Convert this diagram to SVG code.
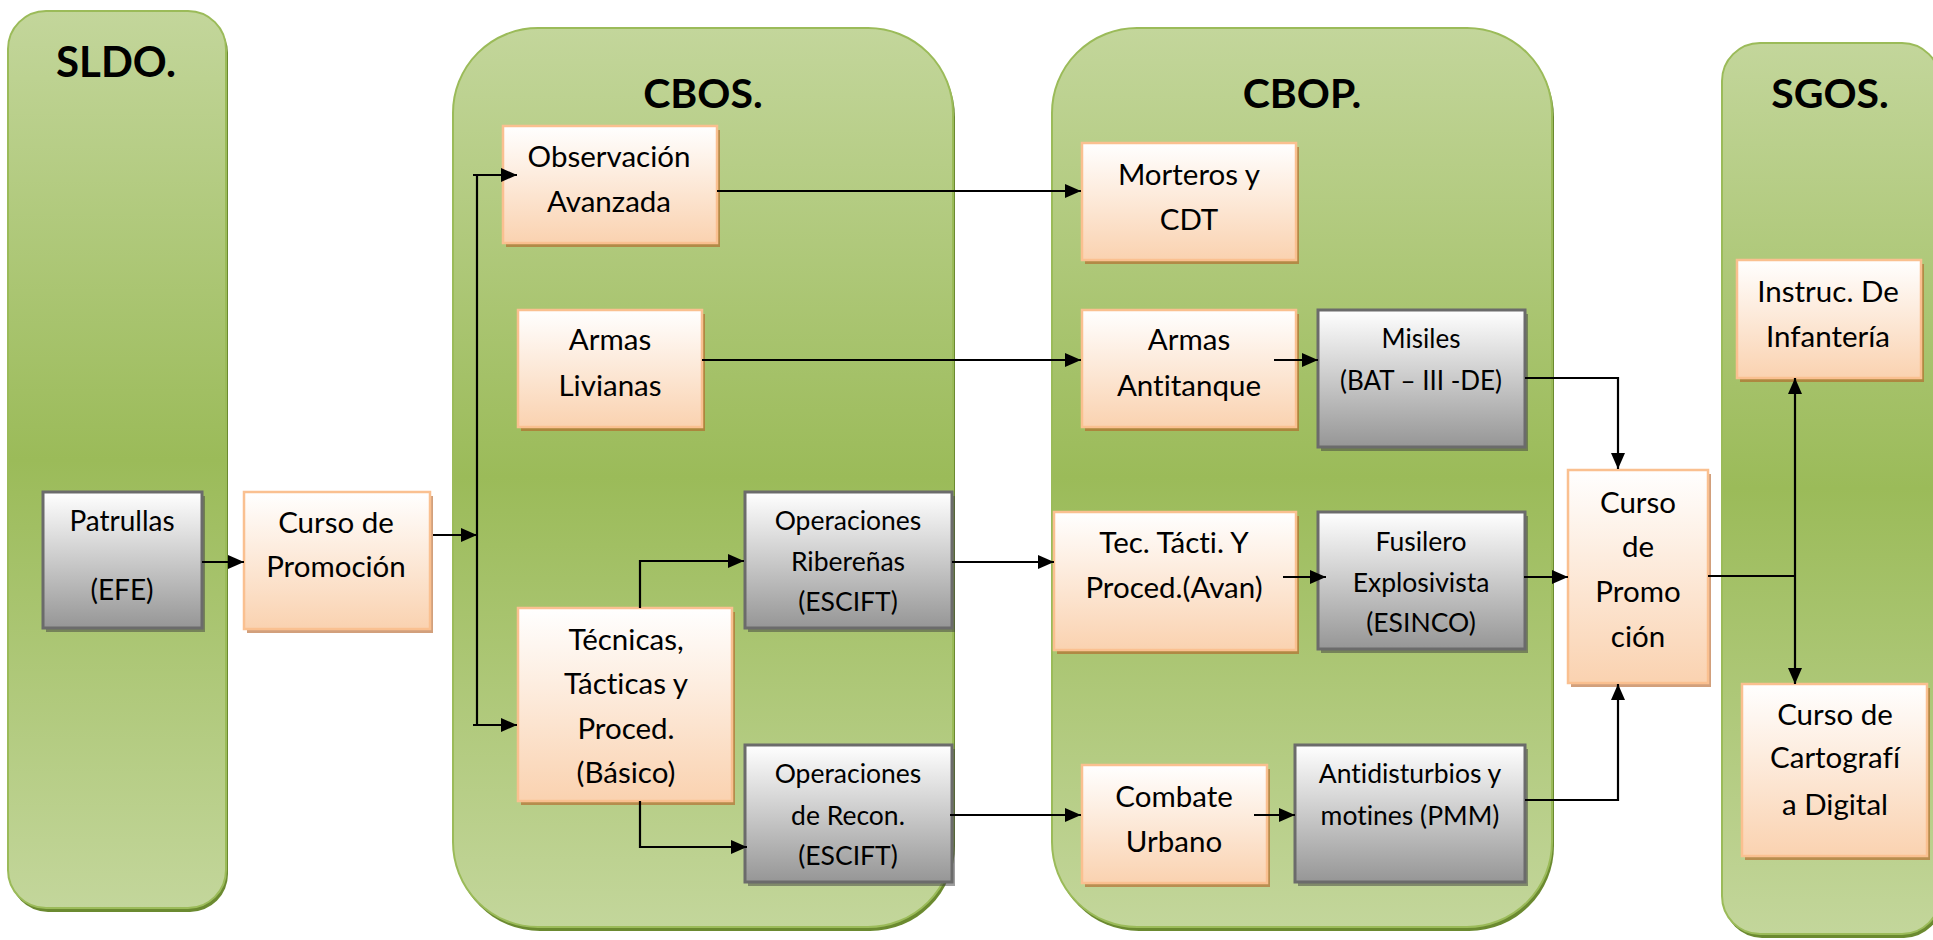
<svg xmlns="http://www.w3.org/2000/svg" width="1933" height="940" viewBox="0 0 1933 940">
<defs>
<linearGradient id="gPanel" x1="0" y1="0" x2="0" y2="1">
<stop offset="0" stop-color="#c3d69b"/><stop offset="0.5" stop-color="#9bbb59"/><stop offset="1" stop-color="#c3d69b"/>
</linearGradient>
<linearGradient id="gOr" x1="0" y1="0" x2="0" y2="1">
<stop offset="0" stop-color="#ffffff"/><stop offset="1" stop-color="#fad2b0"/>
</linearGradient>
<linearGradient id="gGr" x1="0" y1="0" x2="0" y2="1">
<stop offset="0" stop-color="#ffffff"/><stop offset="1" stop-color="#969696"/>
</linearGradient>
<marker id="ah" viewBox="0 0 16 14" refX="16" refY="7" markerWidth="16" markerHeight="14" markerUnits="userSpaceOnUse" orient="auto">
<path d="M0,0 L16,7 L0,14 z" fill="#000"/>
</marker>
<style>
.pshadow{fill:#6b8a30}
.panel{fill:url(#gPanel);stroke:#9bbb59;stroke-width:2}
.title{font-family:Lato,"Liberation Sans",sans-serif;font-weight:bold;font-size:41px;fill:#000;text-anchor:middle}
.oshadow{fill:#b46125;opacity:0.6}
.gshadow{fill:#404040;opacity:0.5}
.or{fill:url(#gOr);stroke:#fac090;stroke-width:2.5}
.gr{fill:url(#gGr);stroke:#6b6b6b;stroke-width:3}
.t{font-family:Lato,"Liberation Sans",sans-serif;font-size:29.5px;fill:#000;text-anchor:middle;font-variant-ligatures:none}
.s{font-size:26.5px}
.m{font-size:26px}
.p{font-size:28px}
.c{fill:none;stroke:#000;stroke-width:2.2}
</style>
</defs>

<g id="panel-sldo">
<rect class="pshadow" x="10" y="15" width="218" height="897" rx="38"/>
<rect class="panel" x="8" y="11" width="218" height="897" rx="38"/>
<text class="title" x="116" y="77" style="font-size:42px">SLDO.</text>
</g>
<g id="panel-cbos">
<rect class="pshadow" x="455" y="32" width="500" height="899" rx="85"/>
<rect class="panel" x="453" y="28" width="500" height="899" rx="85"/>
<text class="title" x="703" y="108">CBOS.</text>
</g>
<g id="panel-cbop">
<rect class="pshadow" x="1054" y="32" width="500" height="899" rx="85"/>
<rect class="panel" x="1052" y="28" width="500" height="899" rx="85"/>
<text class="title" x="1302" y="108">CBOP.</text>
</g>
<g id="panel-sgos">
<rect class="pshadow" x="1724" y="47" width="218" height="891" rx="38"/>
<rect class="panel" x="1722" y="43" width="218" height="891" rx="38"/>
<text class="title" x="1830" y="108">SGOS.</text>
</g>

<g id="n-patrullas">
<rect class="gshadow" x="46" y="496" width="159" height="136"/>
<rect class="gr" x="43" y="492" width="159" height="136"/>
<text class="t p" x="122" y="531">Patrullas</text>
<text class="t p" x="122" y="600">(EFE)</text>
</g>
<g id="n-curso1">
<rect class="oshadow" x="247" y="496" width="186" height="137"/>
<rect class="or" x="244" y="492" width="186" height="137"/>
<text class="t" x="336" y="533">Curso de</text>
<text class="t" x="336" y="577">Promoción</text>
</g>
<g id="n-observacion">
<rect class="oshadow" x="506" y="130" width="214" height="117"/>
<rect class="or" x="503" y="126" width="214" height="117"/>
<text class="t" x="609" y="167">Observación</text>
<text class="t" x="609" y="212">Avanzada</text>
</g>
<g id="n-livianas">
<rect class="oshadow" x="521" y="314" width="184" height="117"/>
<rect class="or" x="518" y="310" width="184" height="117"/>
<text class="t" x="610" y="350">Armas</text>
<text class="t" x="610" y="396">Livianas</text>
</g>
<g id="n-tecnicas">
<rect class="oshadow" x="521" y="612" width="214" height="193"/>
<rect class="or" x="518" y="608" width="214" height="193"/>
<text class="t" x="626" y="650">Técnicas,</text>
<text class="t" x="626" y="694">Tácticas y</text>
<text class="t" x="626" y="739">Proced.</text>
<text class="t" x="626" y="783">(Básico)</text>
</g>
<g id="n-riberenas">
<rect class="gshadow" x="748" y="496" width="207" height="136"/>
<rect class="gr" x="745" y="492" width="207" height="136"/>
<text class="t s" x="848" y="530">Operaciones</text>
<text class="t s" x="848" y="571">Ribereñas</text>
<text class="t s" x="848" y="611">(ESCIFT)</text>
</g>
<g id="n-recon">
<rect class="gshadow" x="748" y="749" width="207" height="137"/>
<rect class="gr" x="745" y="745" width="207" height="137"/>
<text class="t s" x="848" y="783">Operaciones</text>
<text class="t s" x="848" y="825">de Recon.</text>
<text class="t s" x="848" y="865">(ESCIFT)</text>
</g>
<g id="n-morteros">
<rect class="oshadow" x="1085" y="147" width="214" height="117"/>
<rect class="or" x="1082" y="143" width="214" height="117"/>
<text class="t" x="1189" y="185">Morteros y</text>
<text class="t" x="1189" y="230">CDT</text>
</g>
<g id="n-antitanque">
<rect class="oshadow" x="1085" y="314" width="214" height="117"/>
<rect class="or" x="1082" y="310" width="214" height="117"/>
<text class="t" x="1189" y="350">Armas</text>
<text class="t" x="1189" y="396">Antitanque</text>
</g>
<g id="n-misiles">
<rect class="gshadow" x="1321" y="314" width="207" height="137"/>
<rect class="gr" x="1318" y="310" width="207" height="137"/>
<text class="t m" x="1421" y="348">Misiles</text>
<text class="t m" x="1421" y="390">(BAT – III -DE)</text>
</g>
<g id="n-tecavan">
<rect class="oshadow" x="1057" y="516" width="242" height="138"/>
<rect class="or" x="1054" y="512" width="242" height="138"/>
<text class="t" x="1174" y="553">Tec. Tácti. Y</text>
<text class="t" x="1174" y="598">Proced.(Avan)</text>
</g>
<g id="n-fusilero">
<rect class="gshadow" x="1321" y="516" width="207" height="137"/>
<rect class="gr" x="1318" y="512" width="207" height="137"/>
<text class="t s" x="1421" y="551">Fusilero</text>
<text class="t s" x="1421" y="592">Explosivista</text>
<text class="t s" x="1421" y="632">(ESINCO)</text>
</g>
<g id="n-combate">
<rect class="oshadow" x="1085" y="769" width="185" height="118"/>
<rect class="or" x="1082" y="765" width="185" height="118"/>
<text class="t" x="1174" y="807">Combate</text>
<text class="t" x="1174" y="852">Urbano</text>
</g>
<g id="n-antidisturbios">
<rect class="gshadow" x="1298" y="749" width="230" height="137"/>
<rect class="gr" x="1295" y="745" width="230" height="137"/>
<text class="t s" x="1410" y="783">Antidisturbios y</text>
<text class="t s" x="1410" y="825">motines (PMM)</text>
</g>
<g id="n-curso2">
<rect class="oshadow" x="1571" y="474" width="140" height="213"/>
<rect class="or" x="1568" y="470" width="140" height="213"/>
<text class="t" x="1638" y="513">Curso</text>
<text class="t" x="1638" y="557">de</text>
<text class="t" x="1638" y="602">Promo</text>
<text class="t" x="1638" y="647">ción</text>
</g>
<g id="n-instruc">
<rect class="oshadow" x="1740" y="264" width="184" height="118"/>
<rect class="or" x="1737" y="260" width="184" height="118"/>
<text class="t" x="1828" y="302">Instruc. De</text>
<text class="t" x="1828" y="347">Infantería</text>
</g>
<g id="n-cartografia">
<rect class="oshadow" x="1745" y="688" width="185" height="172"/>
<rect class="or" x="1742" y="684" width="185" height="172"/>
<text class="t" x="1835" y="725">Curso de</text>
<text class="t" x="1835" y="768">Cartografí</text>
<text class="t" x="1835" y="815">a Digital</text>
</g>

<g id="connectors">
<path class="c" d="M202,562 H244" marker-end="url(#ah)"/>
<path class="c" d="M433,535 H477" marker-end="url(#ah)"/>
<path class="c" d="M477,175 V725"/>
<path class="c" d="M473,175 H517" marker-end="url(#ah)"/>
<path class="c" d="M473,725 H517" marker-end="url(#ah)"/>
<path class="c" d="M717,191 H1081" marker-end="url(#ah)"/>
<path class="c" d="M702,360 H1081" marker-end="url(#ah)"/>
<path class="c" d="M640,608 V561 H744" marker-end="url(#ah)"/>
<path class="c" d="M640,801 V847 H747" marker-end="url(#ah)"/>
<path class="c" d="M952,562 H1054" marker-end="url(#ah)"/>
<path class="c" d="M950,815 H1081" marker-end="url(#ah)"/>
<path class="c" d="M1274,360 H1318" marker-end="url(#ah)"/>
<path class="c" d="M1525,378 H1618 V469" marker-end="url(#ah)"/>
<path class="c" d="M1283,577 H1326" marker-end="url(#ah)"/>
<path class="c" d="M1524,577 H1568" marker-end="url(#ah)"/>
<path class="c" d="M1254,815 H1295" marker-end="url(#ah)"/>
<path class="c" d="M1525,800 H1618 V684" marker-end="url(#ah)"/>
<path class="c" d="M1708,576 H1795"/>
<path class="c" d="M1795,576 V378" marker-end="url(#ah)"/>
<path class="c" d="M1795,576 V684" marker-end="url(#ah)"/>
</g>
</svg>
